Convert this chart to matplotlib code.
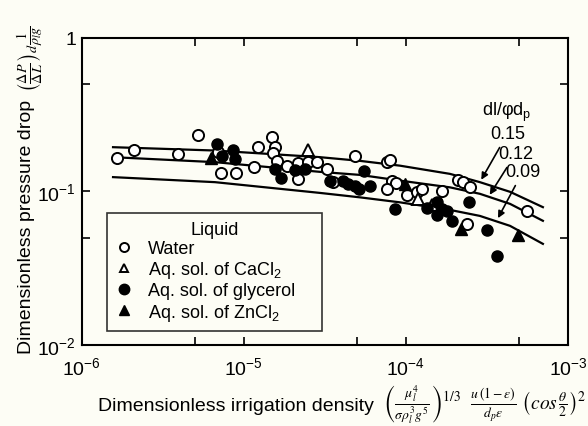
import matplotlib
matplotlib.use("Agg")
import matplotlib.pyplot as plt
from matplotlib.lines import Line2D
import numpy as np

plt.rcParams['font.family'] = ['Liberation Sans', 'DejaVu Sans']
plt.rcParams['mathtext.fontset'] = 'custom'
plt.rcParams['mathtext.rm'] = 'Liberation Sans'
plt.rcParams['mathtext.it'] = 'Liberation Sans:italic'
plt.rcParams['mathtext.bf'] = 'Liberation Sans:bold'

# water (open circles)
water_x = [1.65e-6, 2.1e-6, 3.9e-6, 5.2e-6, 6.9e-6, 7.2e-6, 9.0e-6, 1.16e-5, 1.23e-5,
           1.49e-5, 1.56e-5, 1.52e-5, 1.61e-5, 1.84e-5, 2.17e-5, 2.17e-5, 2.5e-5, 2.82e-5,
           3.27e-5, 3.57e-5, 4.85e-5, 7.6e-5, 8.0e-5, 8.2e-5, 8.7e-5, 7.6e-5, 1.01e-4,
           1.17e-4, 1.25e-4, 1.66e-4, 2.1e-4, 2.26e-4, 2.48e-4, 2.37e-4, 5.6e-4]
water_y = [0.165, 0.185, 0.175, 0.233, 0.18, 0.132, 0.132, 0.145, 0.194,
           0.226, 0.194, 0.177, 0.157, 0.147, 0.12, 0.153, 0.156, 0.155,
           0.14, 0.115, 0.171, 0.156, 0.159, 0.117, 0.114, 0.104, 0.094,
           0.099, 0.104, 0.101, 0.118, 0.115, 0.106, 0.061, 0.075]

# aq. sol. of CaCl2 (open triangles)
cacl2_x = [2.5e-5, 1.19e-4, 1.44e-4]
cacl2_y = [0.185, 0.089, 0.081]

# aq. sol. of glycerol (filled circles)
glyc_x = [6.8e-6, 7.3e-6, 8.6e-6, 8.8e-6, 1.56e-5, 1.7e-5, 2.07e-5, 2.39e-5, 3.4e-5,
          4.1e-5, 4.4e-5, 4.85e-5, 5.1e-5, 5.5e-5, 6.0e-5, 8.6e-5, 1.34e-4, 1.55e-4,
          1.66e-4, 1.79e-4, 1.55e-4, 1.92e-4, 2.46e-4, 3.15e-4, 3.66e-4]
glyc_y = [0.204, 0.17, 0.185, 0.163, 0.14, 0.123, 0.137, 0.14, 0.117,
          0.117, 0.112, 0.109, 0.104, 0.135, 0.109, 0.077, 0.078, 0.085,
          0.077, 0.075, 0.07, 0.064, 0.085, 0.056, 0.038]

# aq. sol. of ZnCl2 (filled triangles)
zncl2_x = [6.3e-6, 9.9e-5, 2.2e-4, 4.9e-4]
zncl2_y = [0.164, 0.111, 0.057, 0.052]

# correlation curves for dl/phi dp
curve_x = [1.56e-6, 6.64e-6, 2.95e-5, 5.21e-5, 9.2e-5, 1.87e-4, 2.86e-4, 4.39e-4, 7.0e-4]
curve_015 = [0.194, 0.1845, 0.167, 0.158, 0.147, 0.130, 0.1148, 0.0993, 0.0789]
curve_012 = [0.167, 0.155, 0.134, 0.128, 0.1175, 0.1062, 0.0964, 0.0829, 0.0643]
curve_009 = [0.1238, 0.1148, 0.0977, 0.0914, 0.0848, 0.0757, 0.0692, 0.0596, 0.0455]

xticks = [1e-6, 1e-5, 1e-4, 1e-3]
xlabels = [r'$10^{-6}$', r'$10^{-5}$', r'$10^{-4}$', r'$10^{-3}$']
yticks = [1e-2, 1e-1, 1]
ylabels = [r'$10^{-2}$', r'$10^{-1}$', '1']

bg = '#fdfdf5'
fig = plt.figure(figsize=(5.88, 4.27), dpi=100, facecolor=bg)
ax = fig.add_axes([0.139, 0.19, 0.827, 0.719], facecolor=bg)

for cy in (curve_015, curve_012, curve_009):
    ax.plot(curve_x, cy, color='black', lw=1.6, zorder=2)

ms = 8
ax.plot(water_x, water_y, 'o', ms=ms, mfc='white', mec='black', mew=1.4, zorder=3)
ax.plot(cacl2_x, cacl2_y, '^', ms=ms, mfc='white', mec='black', mew=1.4, zorder=3)
ax.plot(glyc_x, glyc_y, 'o', ms=ms, mfc='black', mec='black', zorder=4)
ax.plot(zncl2_x, zncl2_y, '^', ms=ms, mfc='black', mec='black', zorder=4)

ax.set_xscale('log')
ax.set_yscale('log')
ax.set_xlim(1e-6, 1e-3)
ax.set_ylim(1e-2, 1)
ax.set_xticks(xticks, xlabels)
ax.set_yticks(yticks, ylabels)
ax.set_xticks([5e-6, 5e-5, 5e-4], minor=True)
ax.set_yticks([5e-2, 5e-1], minor=True)
ax.xaxis.set_minor_formatter(matplotlib.ticker.NullFormatter())
ax.yaxis.set_minor_formatter(matplotlib.ticker.NullFormatter())
ax.tick_params(which='both', direction='in', length=6, width=1.2, top=True, right=True,
               labelsize=14)
ax.tick_params(axis='x', pad=8)
ax.tick_params(axis='y', pad=4)
for s in ax.spines.values():
    s.set_linewidth(1.5)

# curve labels
ax.text(2.94e-4, 0.33, r'dl/φd$_\mathrm{p}$', fontsize=13, va='center', ha='left')
arrow = dict(arrowstyle='-|>', color='black', lw=1.2, mutation_scale=10)
ax.annotate('0.15', xy=(2.86e-4, 0.1148), xytext=(3.3e-4, 0.237), fontsize=13,
            va='center', ha='left', arrowprops=arrow)
ax.annotate('0.12', xy=(3.22e-4, 0.0917), xytext=(3.7e-4, 0.1755), fontsize=13,
            va='center', ha='left', arrowprops=arrow)
ax.annotate('0.09', xy=(3.63e-4, 0.0645), xytext=(4.09e-4, 0.134), fontsize=13,
            va='center', ha='left', arrowprops=arrow)

handles = [
    Line2D([], [], ls='none', marker='o', ms=6.5, mfc='white', mec='black', mew=1.4),
    Line2D([], [], ls='none', marker='^', ms=6, mfc='white', mec='black', mew=1.4),
    Line2D([], [], ls='none', marker='o', ms=7.5, mfc='black', mec='black'),
    Line2D([], [], ls='none', marker='^', ms=6.5, mfc='black', mec='black'),
]
labels = ['Water', r'Aq. sol. of CaCl$_2$', 'Aq. sol. of glycerol', r'Aq. sol. of ZnCl$_2$']
leg = ax.legend(handles, labels, title='Liquid', loc='lower left',
                bbox_to_anchor=(0.052, 0.046, 0.442, 0.39), mode='expand',
                fontsize=13, title_fontsize=13,
                frameon=True, fancybox=False, edgecolor='black', facecolor=bg,
                handlelength=1.0, handletextpad=0.8, labelspacing=0.12,
                borderpad=0.45, borderaxespad=0)
leg.get_frame().set_linewidth(1.2)

# axis labels
fig.text(98 / 588, 1 - 407 / 427, 'Dimensionless irrigation density', fontsize=14,
         ha='left', va='center')
fig.text(383 / 588, 1 - 404 / 427,
         r'$\left(\frac{\mu_l^4}{\sigma\rho_l^3g^5}\right)^{1/3}\ \ \frac{u\,(1-\varepsilon)}{d_p\varepsilon}\ \left(cos\,\frac{\theta}{2}\right)^2$',
         fontsize=14, ha='left', va='center', math_fontfamily='stix')
fig.text(27 / 588, 1 - 354 / 427, 'Dimensionless pressure drop', fontsize=14,
         rotation=90, ha='center', va='bottom')
fig.text(31 / 588, 1 - 92 / 427,
         r'$\left(\frac{\Delta P}{\Delta L}\right)_d\frac{1}{\rho_l g}$',
         fontsize=14.5, rotation=90, ha='center', va='bottom', math_fontfamily='stix')

fig.savefig('out.png', dpi=100, facecolor=bg)
